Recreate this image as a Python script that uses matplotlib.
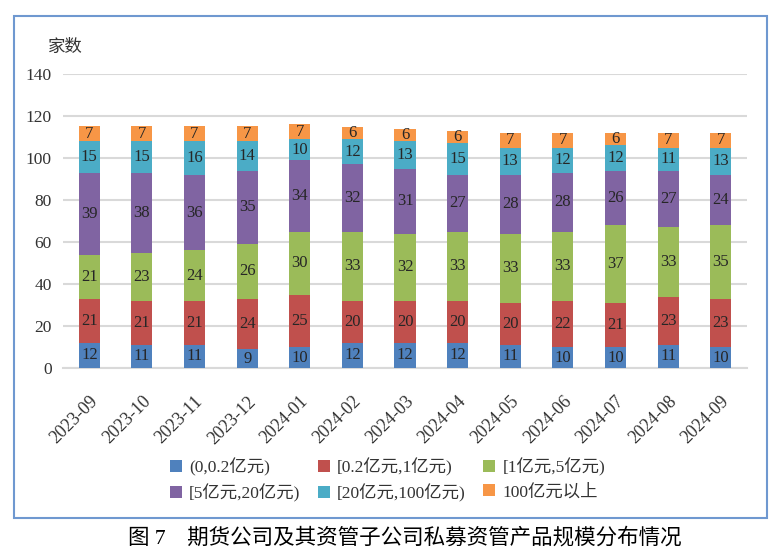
import matplotlib
matplotlib.use("Agg")
import matplotlib.pyplot as plt
import numpy as np
from matplotlib.patches import Rectangle

FAM = ['Liberation Serif', 'Noto Sans CJK SC']
plt.rcParams['font.family'] = FAM

months = ['2023-09', '2023-10', '2023-11', '2023-12', '2024-01', '2024-02', '2024-03',
          '2024-04', '2024-05', '2024-06', '2024-07', '2024-08', '2024-09']
s1 = [12, 11, 11, 9, 10, 12, 12, 12, 11, 10, 10, 11, 10]
s2 = [21, 21, 21, 24, 25, 20, 20, 20, 20, 22, 21, 23, 23]
s3 = [21, 23, 24, 26, 30, 33, 32, 33, 33, 33, 37, 33, 35]
s4 = [39, 38, 36, 35, 34, 32, 31, 27, 28, 28, 26, 27, 24]
s5 = [15, 15, 16, 14, 10, 12, 13, 15, 13, 12, 12, 11, 13]
s6 = [7, 7, 7, 7, 7, 6, 6, 6, 7, 7, 6, 7, 7]
series_names = ['(0,0.2亿元)', '[0.2亿元,1亿元)', '[1亿元,5亿元)',
                '[5亿元,20亿元)', '[20亿元,100亿元)', '100亿元以上']
colors = ['#4F81BD', '#C0504D', '#9BBB59', '#8064A2', '#4BACC6', '#F79646']
yticks = [0, 20, 40, 60, 80, 100, 120, 140]

W, H = 780, 554
fig = plt.figure(figsize=(W / 100, H / 100), dpi=100)
ax = fig.add_axes([63 / W, 1 - 368 / H, (747 - 63) / W, (368 - 74) / H])

x = np.arange(len(months))
bottom = np.zeros(len(months))
handles = []
for vals, name, c in zip([s1, s2, s3, s4, s5, s6], series_names, colors):
    vals = np.array(vals, dtype=float)
    b = ax.bar(x, vals, 0.4, bottom=bottom, color=c, label=name, zorder=3)
    handles.append(b)
    for xi, v, bt in zip(x, vals, bottom):
        ax.text(xi, bt + v / 2, f'{int(v)}', ha='center', va='center',
                fontsize=12, color='#262626', family=FAM, zorder=4)
    bottom += vals

ax.set_xlim(-0.5, len(months) - 0.5)
ax.set_ylim(0, 140)
ax.set_yticks(yticks)
ax.set_yticklabels([str(t) for t in yticks], fontsize=12.5, color='#333333')
ax.yaxis.grid(True, color='#D9D9D9', linewidth=1.5, zorder=0)
ax.set_xticks(x)
ax.set_xticklabels(months, rotation=45, ha='right', rotation_mode='anchor',
                   fontsize=13, color='#333333')
ax.tick_params(axis='x', length=0, pad=18)
ax.tick_params(axis='y', length=0, pad=8)
for sp in ['top', 'right', 'left']:
    ax.spines[sp].set_visible(False)
ax.spines['bottom'].set_color('#D9D9D9')
ax.spines['bottom'].set_linewidth(1.5)

fig.text(48 / W, 1 - 48 / H, '家数', fontsize=12.5, color='#333333',
         ha='left', va='center', family=FAM)

order = [0, 3, 1, 4, 2, 5]
leg = fig.legend(handles=[handles[i] for i in order],
                 labels=[series_names[i] for i in order], ncol=3,
                 loc='center left', bbox_to_anchor=(158 / W, 1 - 480 / H),
                 frameon=False, fontsize=12.5, handlelength=0.7, handleheight=0.7,
                 handletextpad=0.4, columnspacing=1.0, labelspacing=0.45,
                 borderpad=0.2)
for t in leg.get_texts():
    t.set_color('#333333')

fig.patches.append(Rectangle((14 / W, 1 - 518 / H), (767 - 14) / W, (518 - 16) / H,
                             transform=fig.transFigure, fill=False,
                             edgecolor='#6F98D0', linewidth=1.5))

fig.text(405 / W, 1 - 538 / H, '图 7　期货公司及其资管子公司私募资管产品规模分布情况',
         fontsize=15.5, ha='center', va='center', color='black', family=FAM)

fig.savefig('out.png', dpi=100)
